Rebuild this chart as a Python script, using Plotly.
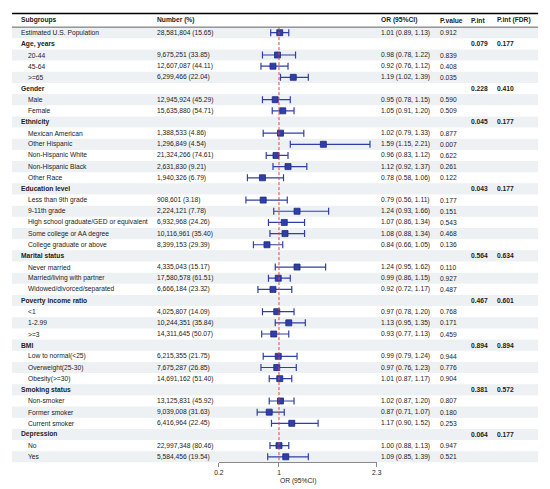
import plotly.graph_objects as go

# rows of the table, top to bottom
labels = ['Estimated U.S. Population', 'Age, years', '20-44', '45-64', '>=65',
          'Gender', 'Male', 'Female',
          'Ethnicity', 'Mexican American', 'Other Hispanic', 'Non-Hispanic White',
          'Non-Hispanic Black', 'Other Race',
          'Education level', 'Less than 9th grade', '9-11th grade',
          'High school graduate/GED or equivalent', 'Some college or AA degree',
          'College graduate or above',
          'Marital status', 'Never married', 'Married/living with partner',
          'Widowed/divorced/separated',
          'Poverty income ratio', '<1', '1-2.99', '>=3',
          'BMI', 'Low to normal(<25)', 'Overweight(25-30)', 'Obesity(>=30)',
          'Smoking status', 'Non-smoker', 'Former smoker', 'Current smoker',
          'Depression', 'No', 'Yes']
is_group = [False, True, False, False, False,
            True, False, False,
            True, False, False, False, False, False,
            True, False, False, False, False, False,
            True, False, False, False,
            True, False, False, False,
            True, False, False, False,
            True, False, False, False,
            True, False, False]
numbers = ['28,581,804 (15.65)', '', '9,675,251 (33.85)', '12,607,087 (44.11)', '6,299,466 (22.04)',
           '', '12,945,924 (45.29)', '15,635,880 (54.71)',
           '', '1,388,533 (4.86)', '1,296,849 (4.54)', '21,324,266 (74.61)',
           '2,631,830 (9.21)', '1,940,326 (6.79)',
           '', '908,601 (3.18)', '2,224,121 (7.78)', '6,932,968 (24.26)',
           '10,116,961 (35.40)', '8,399,153 (29.39)',
           '', '4,335,043 (15.17)', '17,580,578 (61.51)', '6,666,184 (23.32)',
           '', '4,025,807 (14.09)', '10,244,351 (35.84)', '14,311,645 (50.07)',
           '', '6,215,355 (21.75)', '7,675,287 (26.85)', '14,691,162 (51.40)',
           '', '13,125,831 (45.92)', '9,039,008 (31.63)', '6,416,964 (22.45)',
           '', '22,997,348 (80.46)', '5,584,456 (19.54)']
odds = [1.01, None, 0.98, 0.92, 1.19,
        None, 0.95, 1.05,
        None, 1.02, 1.59, 0.96, 1.12, 0.78,
        None, 0.79, 1.24, 1.07, 1.08, 0.84,
        None, 1.24, 0.99, 0.92,
        None, 0.97, 1.13, 0.93,
        None, 0.99, 0.97, 1.01,
        None, 1.02, 0.87, 1.17,
        None, 1.00, 1.09]
ci_low = [0.89, None, 0.78, 0.76, 1.02,
          None, 0.78, 0.91,
          None, 0.79, 1.15, 0.83, 0.92, 0.58,
          None, 0.56, 0.93, 0.86, 0.88, 0.66,
          None, 0.95, 0.86, 0.72,
          None, 0.78, 0.95, 0.77,
          None, 0.79, 0.76, 0.87,
          None, 0.87, 0.71, 0.90,
          None, 0.88, 0.85]
ci_high = [1.13, None, 1.22, 1.12, 1.39,
           None, 1.15, 1.20,
           None, 1.33, 2.21, 1.12, 1.37, 1.06,
           None, 1.11, 1.66, 1.34, 1.34, 1.05,
           None, 1.62, 1.15, 1.17,
           None, 1.20, 1.35, 1.13,
           None, 1.24, 1.23, 1.17,
           None, 1.20, 1.07, 1.52,
           None, 1.13, 1.39]
p_values = ['0.912', '', '0.839', '0.408', '0.035',
            '', '0.590', '0.509',
            '', '0.877', '0.007', '0.622', '0.261', '0.122',
            '', '0.177', '0.151', '0.543', '0.468', '0.136',
            '', '0.110', '0.927', '0.487',
            '', '0.768', '0.171', '0.459',
            '', '0.944', '0.776', '0.904',
            '', '0.807', '0.180', '0.253',
            '', '0.947', '0.521']
p_int = ['', '0.079', '', '', '',
         '0.228', '', '',
         '0.045', '', '', '', '', '',
         '0.043', '', '', '', '', '',
         '0.564', '', '', '',
         '0.467', '', '', '',
         '0.894', '', '', '',
         '0.381', '', '', '',
         '0.064', '', '']
p_int_fdr = ['', '0.177', '', '', '',
             '0.410', '', '',
             '0.177', '', '', '', '', '',
             '0.177', '', '', '', '', '',
             '0.634', '', '', '',
             '0.601', '', '', '',
             '0.894', '', '', '',
             '0.572', '', '', '',
             '0.177', '', '']
x_ticks = [0.2, 1, 2.3]

# the page body has an 8px margin, so the figure is shrunk by that much
OFF = 8
WIN_W, WIN_H = 550, 489
W, H = WIN_W - OFF, WIN_H - OFF
ROW0, STEP = 32.7, 11.16   # pixel y of first row and row spacing
FONT = 'Liberation Sans, Arial, sans-serif'
FS = 6.7
BLUE = '#2f3fa6'
n = len(labels)
ys = [-i for i in range(n)]


def px(x):
    return (x - OFF) / W


fig = go.Figure()

shapes = []
for i in range(n):
    if i % 2 == 0:
        shapes.append(dict(type='rect', xref='paper', yref='y', x0=px(7), x1=px(543),
                           y0=-i - 0.5, y1=-i + 0.5, fillcolor='#edf1f4', line_width=0,
                           layer='below'))
shapes.append(dict(type='line', xref='paper', yref='y', x0=px(7), x1=px(543),
                   y0=1.72, y1=1.72, line=dict(color='black', width=1.6)))
shapes.append(dict(type='line', xref='paper', yref='y', x0=px(7), x1=px(543),
                   y0=0.5, y1=0.5, line=dict(color='black', width=0.6)))
shapes.append(dict(type='line', xref='x', yref='y', x0=1, x1=1, y0=0.5, y1=-38.45,
                   line=dict(color='#d9463e', width=1, dash='3px,2px')))

rows = [i for i in range(n) if odds[i] is not None]
fig.add_trace(go.Scatter(
    x=[odds[i] for i in rows], y=[ys[i] for i in rows], mode='markers',
    marker=dict(symbol='square', size=6, color=BLUE, line=dict(color='#1c2a88', width=0.8)),
    error_x=dict(type='data', symmetric=False,
                 array=[ci_high[i] - odds[i] for i in rows],
                 arrayminus=[odds[i] - ci_low[i] for i in rows],
                 color=BLUE, thickness=1.2, width=3.5),
    showlegend=False, hoverinfo='skip'))

annotations = []


def txt(x_px, y, text, size=FS, bold=False, anchor='left'):
    annotations.append(dict(xref='paper', yref='y', x=px(x_px), y=y,
                            text='<b>%s</b>' % text if bold else text,
                            showarrow=False, xanchor=anchor, yanchor='middle',
                            font=dict(family=FONT, size=size, color='#222')))


hy = 1.13
txt(14, hy, 'Subgroups', bold=True)
txt(153, hy, 'Number (%)', bold=True)
txt(381, hy, 'OR (95%CI)', bold=True)
txt(440.5, hy, 'P.value', bold=True)
txt(473, hy, 'P.int', bold=True)
txt(499, hy, 'P.int (FDR)', bold=True)
txt(298, 2.22, 'Total PA', size=8, bold=True, anchor='center')

for i in range(n):
    y = ys[i]
    if is_group[i]:
        txt(14, y, labels[i], bold=True)
        txt(473, y, p_int[i], bold=True)
        txt(499, y, p_int_fdr[i], bold=True)
    else:
        txt(14 if i == 0 else 21.5, y, labels[i])
        txt(153, y, numbers[i])
        txt(381, y, '%.2f (%.2f, %.2f)' % (odds[i], ci_low[i], ci_high[i]))
        txt(440.5, y, p_values[i])

txt(298, (ROW0 - 481) / STEP, 'OR (95%CI)', anchor='center')

fig.update_layout(
    width=W, height=H,
    margin=dict(l=0, r=0, t=0, b=0),
    paper_bgcolor='white', plot_bgcolor='rgba(0,0,0,0)',
    shapes=shapes, annotations=annotations,
    font=dict(family=FONT, size=FS, color='#222'),
    xaxis=dict(domain=[px(217.7), px(378.6)], range=[0.2, 2.3], anchor='free',
               position=(WIN_H - 461.7) / H, showgrid=False, zeroline=False,
               showline=True, linecolor='#888', linewidth=0.8,
               tickmode='array', tickvals=x_ticks, ticktext=[str(t) for t in x_ticks],
               ticks='outside', ticklen=4, tickcolor='#888', tickwidth=0.8,
               tickfont=dict(family=FONT, size=FS, color='#222')),
    yaxis=dict(domain=[0, 1], range=[(ROW0 - WIN_H) / STEP, (ROW0 - OFF) / STEP],
               visible=False, showgrid=False, zeroline=False),
)

fig.write_html('out.html')
